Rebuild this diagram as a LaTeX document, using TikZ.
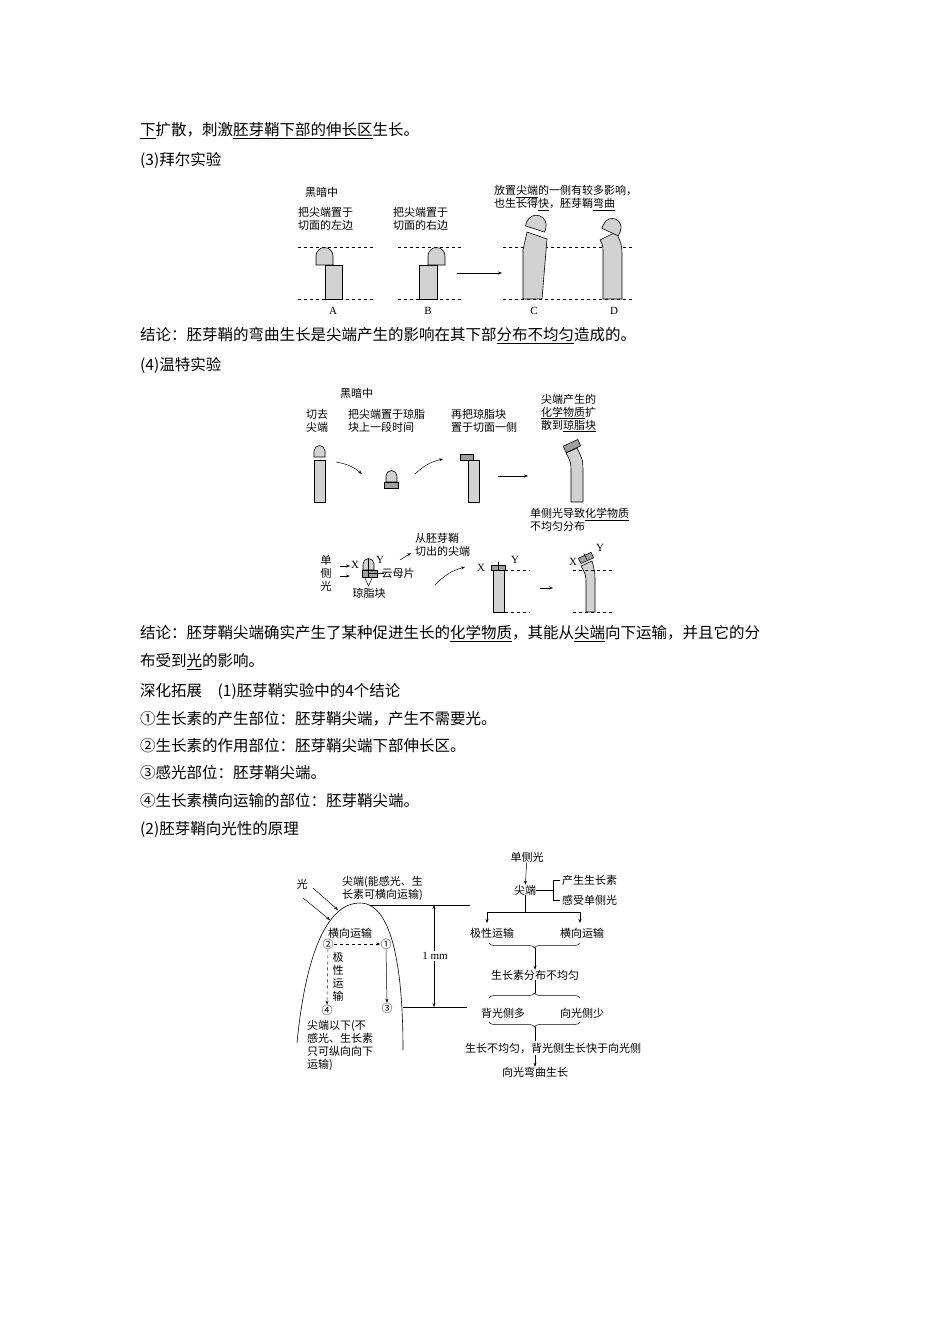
\documentclass[tikz,border=0pt]{standalone}
\usepackage{fontspec}
\setmainfont{Liberation Serif}
\newfontfamily\cjk{Noto Sans CJK SC}
\usetikzlibrary{decorations.pathreplacing,arrows.meta}
\begin{document}
\begin{tikzpicture}[x=1pt,y=-1pt,
  body/.style={anchor=west,inner sep=0pt,font=\cjk\fontsize{15.5}{18}\selectfont},
  sm/.style={inner sep=0pt,font=\cjk\fontsize{11}{13}\selectfont},
  sml/.style={sm,anchor=west},
  lat/.style={inner sep=0pt,font=\fontsize{11}{13}\selectfont},
  plant/.style={draw,fill=gray!35,line width=0.6pt},
  agar/.style={draw,fill=gray!75,line width=0.6pt},
  dl/.style={dashed,line width=0.5pt},
  arr/.style={-{Stealth[length=4pt]},line width=0.5pt},
  ln/.style={line width=0.5pt}]
\useasboundingbox[fill=white] (0,0) rectangle (950,1344);
% body text
\node[body] (t1) at (140,131) {\underline{下}扩散，刺激\underline{胚芽鞘下部的伸长区}生长。};
\node[body] (t2) at (140,160) {(3)拜尔实验};
\node[body] (t3) at (140,336) {结论：胚芽鞘的弯曲生长是尖端产生的影响在其下部\underline{分布不均匀}造成的。};
\node[body] (t4) at (140,365) {(4)温特实验};
\node[body] (t5) at (140,634) {结论：胚芽鞘尖端确实产生了某种促进生长的\underline{化学物质}，其能从\underline{尖端}向下运输，并且它的分};
\node[body] (t6) at (140,662) {布受到\underline{光}的影响。};
\node[body] (t7) at (140,691) {深化拓展\quad(1)胚芽鞘实验中的4个结论};
\node[body] (t8) at (140,719) {①生长素的产生部位：胚芽鞘尖端，产生不需要光。};
\node[body] (t9) at (140,746) {②生长素的作用部位：胚芽鞘尖端下部伸长区。};
\node[body] (t10) at (140,773) {③感光部位：胚芽鞘尖端。};
\node[body] (t11) at (140,801) {④生长素横向运输的部位：胚芽鞘尖端。};
\node[body] (t12) at (140,829) {(2)胚芽鞘向光性的原理};
% ===== Bayer =====
\node[sml] (b1) at (305,192) {黑暗中};
\node[sml,align=left] (b2) at (298,219) {把尖端置于\\切面的左边};
\node[sml,align=left] (b3) at (393,219) {把尖端置于\\切面的右边};
\node[sml,align=left] (b4) at (494,198) {放置\underline{尖端}的一侧有较多影响，\\也生长得\underline{快}，胚芽鞘\underline{弯曲}};
\draw[dl] (298,247)--(373,247) (398,247)--(463,247) (503,247)--(633,247);
\draw[dl] (298,299)--(373,299) (398,299)--(463,299) (503,299)--(633,299);
\draw[plant] (325,299) rectangle (342,265);
\draw[plant] (316,265)--(316,256) arc(180:360:8.5)--(333,265)--cycle;
\draw[plant] (419,299) rectangle (437,265);
\draw[plant] (428,265)--(428,256) arc(180:360:8.5)--(445,265)--cycle;
\coordinate (ba1) at (457,273); \coordinate (ba2) at (502,273);
\draw[arr] (ba1)--(ba2);
\draw[plant] (523,299)--(523,250)--(527,232)--(547,239)--(542,299)--cycle;
\begin{scope}[shift={(535,229)},rotate=-18]
\draw[plant] (-10,0)--(-10,-4) arc(180:360:10)--(10,0)--cycle;
\end{scope}
\draw[plant] (603,299)--(603,255) .. controls (603,245) .. (600,240)--(616,232) .. controls (622,245) .. (622,260)--(622,299)--cycle;
\begin{scope}[shift={(610,232)},rotate=-25]
\draw[plant] (-9,0)--(-9,-5) arc(180:360:9)--(9,0)--cycle;
\end{scope}
\node[lat] (lA) at (333,311) {A};
\node[lat] (lB) at (428,311) {B};
\node[lat] (lC) at (534,311) {C};
\node[lat] (lD) at (614,311) {D};
% ===== Went =====
\node[sml] (w0) at (340,393) {黑暗中};
\node[sml,anchor=west,align=left] (w1) at (306,421) {切去\\尖端};
\node[sml,anchor=west,align=left] (w2) at (348,421) {把尖端置于琼脂\\块上一段时间};
\node[sml,anchor=west,align=left] (w3) at (451,421) {再把琼脂块\\置于切面一侧};
\node[sml,anchor=west,align=left] (w4) at (541,413) {尖端产生的\\\underline{化学物质}扩\\散到\underline{琼脂块}};
\draw[plant] (314,457)--(314,451) arc(180:360:5.5)--(325,457)--cycle;
\draw[plant] (314,460) rectangle (325,502);
\coordinate (wa1) at (336,462); \coordinate (wa2) at (362,474);
\draw[arr] (wa1) to[bend left=15] (wa2);
\draw[plant] (386,482)--(386,476) arc(180:360:5.5)--(397,482)--cycle;
\draw[agar] (384,482) rectangle (398,488);
\coordinate (wb1) at (415,474); \coordinate (wb2) at (443,459);
\draw[arr] (wb1) to[bend left=15] (wb2);
\draw[plant] (468,460) rectangle (479,502);
\draw[agar] (460,454) rectangle (473,460);
\coordinate (wc1) at (498,476); \coordinate (wc2) at (528,476);
\draw[arr] (wc1)--(wc2);
\draw[plant] (571,502)--(571,475) .. controls (571,462) .. (566,453)--(577,448) .. controls (583,460) .. (583,475)--(583,502)--cycle;
\begin{scope}[shift={(572,446)},rotate=25]
\draw[agar] (-8,-3.5) rectangle (8,3.5);
\end{scope}
\node[sml,anchor=west,align=left] (w5) at (530,520) {单侧光导致\underline{化学物质}\\不均匀分布};
% bottom row
\node[sm,align=center] (w6) at (326,573) {单\\侧\\光};
\node[lat] (X1) at (355,565) {X};
\node[lat] (Y1) at (380,560) {Y};
\draw[arr] (340,566)--(350,566);
\draw[arr] (340,576)--(350,576);
\draw[plant] (363,570)--(363,564) arc(180:360:5.5)--(374,570)--cycle;
\draw[agar] (362,570) rectangle (377,577);
\draw[ln] (368.5,559)--(368.5,577);
\draw[ln] (368.5,573)--(384,573);
\draw[ln] (365,578)--(368.5,586)--(372,578);
\node[sm] (m1) at (398,573) {云母片};
\node[sm] (m2) at (369,593) {琼脂块};
\coordinate (wd1) at (400,560); \coordinate (wd2) at (411,553);
\draw[arr] (wd1)--(wd2);
\node[sml,anchor=west,align=left] (w7) at (415,545) {从胚芽鞘\\切出的尖端};
\coordinate (we1) at (435,585); \coordinate (we2) at (465,567);
\draw[arr] (we1) to[bend left=15] (we2);
\node[lat] (X2) at (481,568) {X};
\node[lat] (Y2) at (515,560) {Y};
\draw[plant] (493,570) rectangle (504,612);
\draw[agar] (491,565) rectangle (505,570);
\draw[ln] (498,562)--(498,570);
\draw[dl] (505,570)--(530,570) (505,612)--(530,612);
\coordinate (wf1) at (540,588); \coordinate (wf2) at (553,588);
\draw[arr] (wf1)--(wf2);
\draw[plant] (586,612)--(586,585) .. controls (586,575) .. (581,566)--(592,561) .. controls (595,572) .. (595,585)--(595,612)--cycle;
\begin{scope}[shift={(586,558)},rotate=25]
\draw[agar] (-7,-3) rectangle (7,3);
\draw[ln] (0,-5)--(0,3);
\end{scope}
\node[lat] (X3) at (573,562) {X};
\node[lat] (Y3) at (600,548) {Y};
\draw[dl] (573,570)--(613,570) (573,612)--(613,612);
% ===== phototropism =====
\node[sm] (g0) at (302,884) {光};
\draw[arr] (313,888)--(338,910);
\draw[arr] (303,898)--(330,920);
\draw[line width=0.6pt] (297,1043) .. controls (305,960) and (325,903) .. (360,903) .. controls (395,903) and (403,980) .. (403,1050);
\node[sml,align=left] (g1) at (342,888) {尖端(能感光、生\\长素可横向运输)};
\draw[ln] (370,905)--(470,905);
\draw[ln] (403,1007)--(467,1007);
\coordinate (mt) at (434,905); \coordinate (mb) at (434,1007);
\draw[{Stealth[length=4pt]}-{Stealth[length=4pt]},line width=0.5pt] (mt)--(mb);
\node[lat,fill=white,inner sep=1pt] (mm) at (435,956) {1 mm};
\node[sm] (g2) at (350,933) {横向运输};
\node[sm] (c2) at (328,944) {②};
\node[sm] (c1) at (386,944) {①};
\node[sm] (c3) at (387,1008) {③};
\node[sm] (c4) at (327,1010) {④};
\draw[arr,dashed] (c2.east)--(c1.west);
\draw[arr] (c1.south)--(c3.north);
\draw[arr,dashed] (c2.south)--(c4.north);
\node[sm,align=center] (g3) at (338,977) {极\\性\\运\\输};
\node[sml,align=left] (g4) at (307,1045) {尖端以下(不\\感光、生长素\\只可纵向向下\\运输)};
% right flow
\node[sm] (r0) at (527,857) {单侧光};
\node[sm] (r1) at (525,890) {尖端};
\draw[arr] (r0)--(r1);
\draw[ln] (r1.east)--(553,890);
\draw[ln] (560,880)--(553,880)--(553,900)--(560,900);
\node[sml] (r2) at (562,880) {产生生长素};
\node[sml] (r3) at (562,900) {感受单侧光};
\draw[ln] (r1.south)--(525,912);
\draw[ln] (487,912)--(580,912);
\node[sm] (r4) at (492,933) {极性运输};
\node[sm] (r5) at (582,933) {横向运输};
\draw[arr] (487,912)--(487,923);
\draw[arr] (580,912)--(580,923);
\draw[ln,decorate,decoration={brace,amplitude=5pt}] (580,943)--(489,943);
\node[sm] (r6) at (535,975) {生长素分布不均匀};
\draw[arr] (535,948)--(r6.north);
\draw[ln,decorate,decoration={brace,amplitude=5pt}] (489,998)--(580,998);
\draw[ln] (r6.south)--(535,993);
\node[sm] (r7) at (503,1013) {背光侧多};
\node[sm] (r8) at (582,1013) {向光侧少};
\draw[ln,decorate,decoration={brace,amplitude=5pt}] (580,1022)--(489,1022);
\node[sm] (r9) at (553,1048) {生长不均匀，背光侧生长快于向光侧};
\draw[ln] (535,1027)--(535,1041);
\node[sm] (r10) at (535,1072) {向光弯曲生长};
\draw[arr] (535,1055)--(r10.north);
\end{tikzpicture}
\end{document}
